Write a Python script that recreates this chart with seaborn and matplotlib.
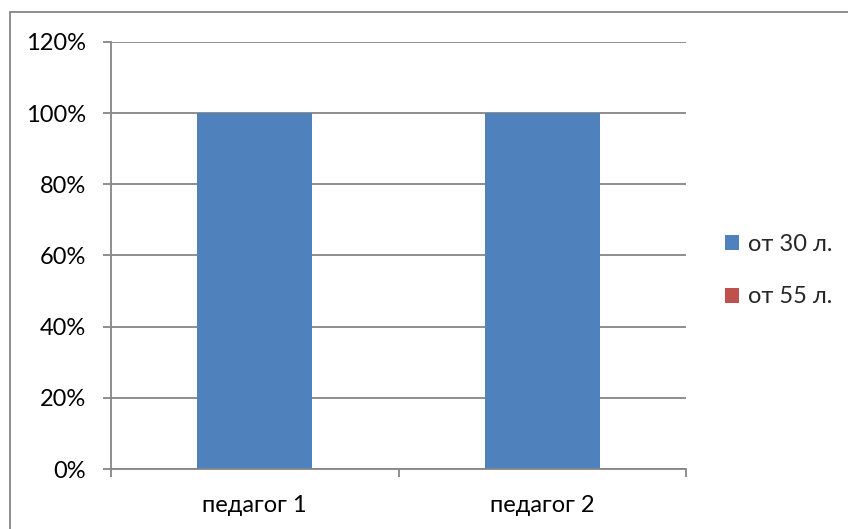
import matplotlib
matplotlib.use('Agg')
import matplotlib.pyplot as plt
import seaborn as sns
import pandas as pd
from matplotlib.patches import Patch
from matplotlib.lines import Line2D
from matplotlib.ticker import FuncFormatter, FixedLocator

categories = ['педагог 1', 'педагог 2']
series_names = ['от 30 л.', 'от 55 л.']
values_30 = [1.0, 1.0]
values_55 = [0.0, 0.0]
colors = ['#4F81BD', '#C0504D']
y_ticks = [0, 0.2, 0.4, 0.6, 0.8, 1.0, 1.2]

sns.set_style('white')
plt.rcParams['font.family'] = ['Lato', 'DejaVu Sans']

df = pd.DataFrame({
    'cat': categories * 2,
    'series': [series_names[0]] * 2 + [series_names[1]] * 2,
    'value': values_30 + values_55,
})

fig = plt.figure(figsize=(8.48, 5.29), dpi=100)
ax = fig.add_axes([111 / 848, 1 - 469 / 529, (686 - 111) / 848, (469 - 42) / 529])

sns.barplot(data=df, x='cat', y='value', hue='series', palette=colors,
            dodge=False, width=0.4, legend=False, ax=ax, errorbar=None,
            saturation=1, linewidth=0)

grid_c = '#868686'
ax.set_xlim(-0.5, 1.5)
ax.set_ylim(0, 1.2)
ax.yaxis.set_major_locator(FixedLocator(y_ticks))
ax.yaxis.set_major_formatter(FuncFormatter(lambda v, p: f'{v * 100:.0f}%'))
ax.grid(axis='y', color=grid_c, linewidth=1.3)
ax.set_axisbelow(True)
ax.set_xlabel('')
ax.set_ylabel('')

for s in ['top', 'right']:
    ax.spines[s].set_visible(False)
for s in ['left', 'bottom']:
    ax.spines[s].set_color(grid_c)
    ax.spines[s].set_linewidth(1.3)

ax.tick_params(axis='y', left=True, length=6, width=1.3, color=grid_c, pad=12,
               labelsize=17, labelcolor='black')
ax.tick_params(axis='x', which='major', bottom=False, length=0, pad=19,
               labelsize=17, labelcolor='black')
ax.set_xticks([-0.5, 0.5, 1.5], minor=True)
ax.tick_params(axis='x', which='minor', bottom=True, length=6, width=1.3, color=grid_c)

handles = [Patch(facecolor=c, edgecolor='none') for c in colors]
ax.legend(handles, series_names, loc='center left', bbox_to_anchor=(1.03, 0.465),
          frameon=False, fontsize=17, handlelength=0.6, handleheight=0.6,
          handletextpad=0.4, labelspacing=1.35)

fig.add_artist(Line2D([10 / 848, 10 / 848], [0, 1 - 12 / 529], color=grid_c, lw=1.3))
fig.add_artist(Line2D([10 / 848, 1], [1 - 12 / 529, 1 - 12 / 529], color=grid_c, lw=1.3))

fig.savefig('out.png', dpi=100)
